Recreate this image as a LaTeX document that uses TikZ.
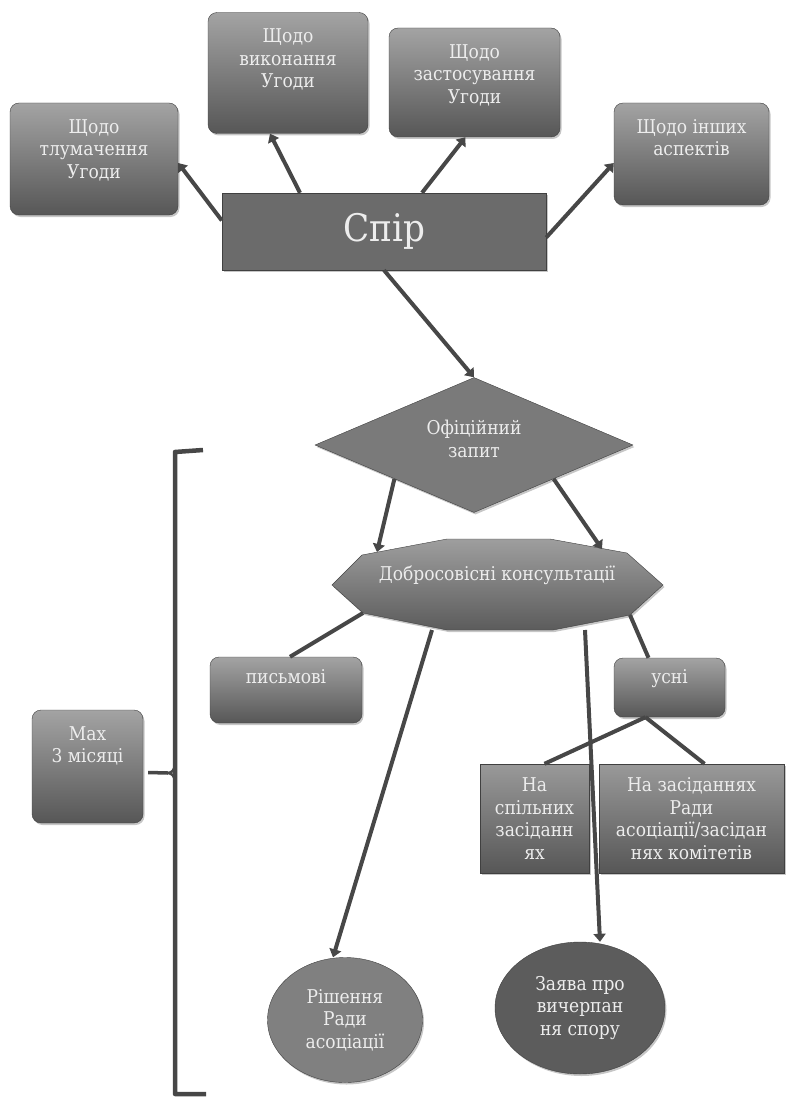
\documentclass[tikz,border=0pt]{standalone}
\usepackage{fontspec}
\setmainfont{DejaVu Serif Condensed}
\usetikzlibrary{positioning,shapes.geometric,arrows.meta,shadows,backgrounds}

\begin{document}
\begin{tikzpicture}[x=1pt, y=-1pt,
		shade/.style={drop shadow={shadow xshift=1.5pt, shadow yshift=-2pt, opacity=0.45}},
		card/.style={rectangle, rounded corners=9pt, draw=black!75, top color=black!36, bottom color=black!66, shade},
		flat/.style={rectangle, draw=black!75, top color=black!40, bottom color=black!66, shade},
		txt/.style={align=center, text=white!93!black, font=\fontsize{19}{22.5}\selectfont},
		cardtxt/.style={txt, anchor=north, yshift=-13pt},
		link/.style={line width=4pt, draw=black!72},
		arr/.style={link, -{Triangle[length=8pt, width=12pt]}}]
		\useasboundingbox (0,0) rectangle (786,1097);
		\begin{scope}
			\node[card, minimum width=168pt, minimum height=112pt, label={[cardtxt]north:Щодо\\тлумачення\\Угоди}] (tlum) at (94,159) {};
			\node[card, minimum width=160pt, minimum height=121pt, label={[cardtxt]north:Щодо\\виконання\\Угоди}] (vykon) at (288,73) {};
			\node[card, minimum width=171pt, minimum height=109pt, label={[cardtxt]north:Щодо\\застосування\\Угоди}] (zastos) at (474.5,82.5) {};
			\node[card, minimum width=155pt, minimum height=102pt, label={[cardtxt]north:Щодо інших\\аспектів}] (inshi) at (691.5,154) {};
			\node[rectangle, draw=black!75, fill=black!58, shade, minimum width=324pt, minimum height=77pt, txt, font=\fontsize{38}{40}\selectfont] (spir) at (384,231.5) {Спір};
			\node[diamond, draw=black!75, fill=black!52, shade, minimum width=318pt, minimum height=135pt, inner sep=0pt, label={[txt, anchor=center, yshift=6pt]center:Офіційний\\запит}] (offi) at (474,445) {};
			\node[minimum width=331pt, minimum height=91pt, label={[txt, anchor=center, yshift=10pt]center:Добросовісні консультації}] (kons) at (497,585) {};
			\node[card, minimum width=152pt, minimum height=66pt, label={[cardtxt, yshift=4pt]north:письмові}] (pysm) at (286,690) {};
			\node[card, minimum width=111pt, minimum height=59pt, label={[cardtxt, yshift=5pt]north:усні}] (usni) at (669.5,687.5) {};
			\node[flat, minimum width=109pt, minimum height=109pt, txt] (spil) at (534.5,818.5) {На\\спільних\\засіданн\\ях};
			\node[flat, minimum width=185pt, minimum height=109pt, txt] (zasid) at (691.5,818.5) {На засіданнях\\Ради\\асоціації/засідан\\нях комітетів};
			\node[card, minimum width=111pt, minimum height=113pt, label={[cardtxt]north:Max\\3 місяці}] (maxb) at (87.5,766.5) {};
			\node[ellipse, draw=black!75, fill=black!50, shade, minimum width=155pt, minimum height=125pt, txt] (rish) at (345,1020) {Рішення\\Ради\\асоціації};
			\node[ellipse, draw=black!75, fill=black!64, shade, minimum width=170pt, minimum height=132pt, txt] (zayava) at (580,1008) {Заява про\\вичерпан\\ня спору};
		\end{scope}
		\begin{scope}[on background layer]
			\draw[draw=black!75, top color=black!38, bottom color=black!64, shade]
			([shift={(-165,0)}]kons.center) -- ([shift={(-135,-30)}]kons.center)
			-- ([shift={(-50,-46)}]kons.center) -- ([shift={(53,-46)}]kons.center)
			-- ([shift={(130,-32)}]kons.center) -- ([shift={(166,0)}]kons.center)
			-- ([shift={(133,30)}]kons.center) -- ([shift={(56,45)}]kons.center)
			-- ([shift={(-50,45)}]kons.center) -- ([shift={(-134,28)}]kons.center) -- cycle;
		\end{scope}
		\begin{scope}
			\draw[arr] ([yshift=11pt]spir.west) -- ([yshift=-4pt]tlum.east);
			\draw[arr] ([xshift=-84pt]spir.north) -- ([xshift=-18pt]vykon.south);
			\draw[arr] ([xshift=38pt]spir.north) -- ([xshift=-9pt]zastos.south);
			\draw[arr] ([yshift=-6pt]spir.east) -- ([yshift=-9pt]inshi.west);
			\draw[arr] (spir.south) -- (offi.north);
			\draw[arr] (offi.south west) -- ([shift={(-120,-33)}]kons.center);
			\draw[arr] (offi.south east) -- ([shift={(105,-36)}]kons.center);
			\draw[link] ([shift={(-134,28)}]kons.center) -- ([xshift=4pt]pysm.north);
			\draw[link] ([shift={(133,30)}]kons.center) -- ([xshift=-21pt]usni.north);
			\draw[link] ([xshift=-24pt]usni.south) -- ([xshift=10pt]spil.north);
			\draw[link] ([xshift=-24pt]usni.south) -- ([xshift=13pt]zasid.north);
			\draw[arr] ([shift={(-65,45)}]kons.center) -- ([xshift=-12pt]rish.north);
			\draw[arr] ([shift={(88,45)}]kons.center) -- ([xshift=20pt]zayava.north);
		\end{scope}
		\coordinate (brtop) at (203,450);
		\coordinate (brbot) at (206,1094);
		\coordinate (brtip) at (168,773);
		\draw[link, line width=4.5pt, line join=round] (brtop) -- ++(-28,2) |- (brbot);
		\draw[link, line width=3.5pt] ([shift={(5,6)}]maxb.east) -- (brtip);
		\draw[link, line width=2.5pt] (brtip) to[out=0, in=-90] (175,764) (brtip) to[out=0, in=90] (175,782);
	\end{tikzpicture}
\end{document}
